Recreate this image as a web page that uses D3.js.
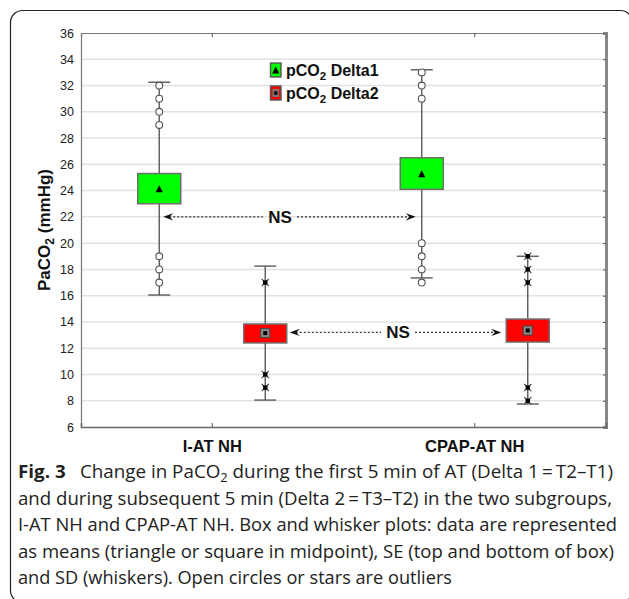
<!DOCTYPE html>
<html>
<head>
<meta charset="utf-8">
<script src="https://cdn.jsdelivr.net/npm/d3@7"></script>
<style>
  html, body { margin: 0; padding: 0; background: #fff; }
  svg { display: block; }
</style>
</head>
<body>
<svg id="chart" width="629" height="599"></svg>
<script>
// ---------------- data ----------------
const categories = ["I-AT NH", "CPAP-AT NH"];
const seriesNames = ["Delta1", "Delta2"];
const yTickValues = [6, 8, 10, 12, 14, 16, 18, 20, 22, 24, 26, 28, 30, 32, 34, 36];

// pCO2 Delta1 (green) — mean, SE box, SD whiskers, outliers
const delta1Mean   = [24.1, 25.25];
const delta1SeLow  = [23.0, 24.1];
const delta1SeHigh = [25.3, 26.5];
const delta1SdLow  = [16.05, 17.35];
const delta1SdHigh = [32.25, 33.2];
const delta1Outliers = [[32, 31, 30, 29, 19, 18, 17], [33, 32, 31, 20, 19, 18, 17]];

// pCO2 Delta2 (red)
const delta2Mean   = [13.15, 13.35];
const delta2SeLow  = [12.4, 12.47];
const delta2SeHigh = [13.84, 14.22];
const delta2SdLow  = [8.05, 7.75];
const delta2SdHigh = [18.25, 19.0];
const delta2Outliers = [[17, 10, 9], [19, 18, 17, 9, 8]];

const legendLabels = ["Delta1", "Delta2"];
const nsLevels = [22, 13.2];

const captionLines = [
  null,
  "and during subsequent 5 min (Delta 2\u2009=\u2009T3\u2013T2) in the two subgroups,",
  "I-AT NH and CPAP-AT NH. Box and whisker plots: data are represented",
  "as means (triangle or square in midpoint), SE (top and bottom of box)",
  "and SD (whiskers). Open circles or stars are outliers"
];

// ---------------- layout ----------------
const svg = d3.select("#chart");
const plot = { left: 81, right: 606, top: 33, bottom: 427 };

const x0 = d3.scaleBand().domain(categories).range([plot.left, plot.right]).padding(0);
const x1 = d3.scalePoint().domain(seriesNames)
  .range([x0.bandwidth() / 2 - 53, x0.bandwidth() / 2 + 53]);
const y = d3.scaleLinear().domain([6, 36]).range([plot.bottom, plot.top]);
const xc = (cat, s) => x0(cat) + x1(s);

// outer frame
svg.append("rect")
  .attr("x", 10.5).attr("y", 10.5).attr("width", 622).attr("height", 592)
  .attr("rx", 12).attr("fill", "none").attr("stroke", "#222").attr("stroke-width", 1.2);

// gridlines
svg.append("g").selectAll("line")
  .data(yTickValues.filter(v => v > 6 && v < 36))
  .join("line")
  .attr("x1", plot.left).attr("x2", plot.right)
  .attr("y1", d => y(d)).attr("y2", d => y(d))
  .attr("stroke", "#e2e2e2").attr("stroke-width", 1.5);

// axes
const yAxis = d3.axisLeft(y).tickValues(yTickValues).tickSize(0).tickPadding(7);
const gy = svg.append("g").attr("transform", `translate(${plot.left},0)`).call(yAxis);
gy.select(".domain").attr("stroke", "#777").attr("stroke-width", 1.2);
gy.selectAll("text").attr("font-family", "Liberation Sans, Arial, sans-serif")
  .attr("font-size", 12.5).attr("fill", "#222");

const yAxisR = d3.axisLeft(y).tickValues(yTickValues).tickSize(3).tickFormat("");
const gyr = svg.append("g").attr("transform", `translate(${plot.right},0)`).call(yAxisR);
gyr.select(".domain").attr("stroke", "#888").attr("stroke-width", 3);
gyr.selectAll(".tick line").attr("stroke", "#555");

const xAxis = d3.axisBottom(x0).tickSize(-4).tickPadding(13);
const gx = svg.append("g").attr("transform", `translate(0,${plot.bottom})`).call(xAxis);
gx.select(".domain").attr("stroke", "#666").attr("stroke-width", 1.6);
gx.selectAll(".tick line").attr("stroke", "#555");
gx.selectAll("text").attr("font-family", "Liberation Sans, Arial, sans-serif")
  .attr("font-size", 16.5).attr("font-weight", "bold").attr("fill", "#111");

const xAxisT = d3.axisTop(x0).tickSize(-4).tickFormat("");
const gxt = svg.append("g").attr("transform", `translate(0,${plot.top})`).call(xAxisT);
gxt.select(".domain").attr("stroke", "#777").attr("stroke-width", 1.2);
gxt.selectAll(".tick line").attr("stroke", "#555");

// y title
const yt = svg.append("text")
  .attr("transform", `translate(50,${(plot.top + plot.bottom) / 2}) rotate(-90)`)
  .attr("text-anchor", "middle")
  .attr("font-family", "Liberation Sans, Arial, sans-serif")
  .attr("font-size", 17).attr("font-weight", "bold").attr("fill", "#111");
yt.append("tspan").text("PaCO");
yt.append("tspan").attr("font-size", 12).attr("dy", 4).text("2");
yt.append("tspan").attr("dy", -4).text(" (mmHg)");

// ---------------- boxes ----------------
const boxW = 43, capW = 22;
const groups = [
  { s: "Delta1", fill: "#00ff00", mean: delta1Mean, seLo: delta1SeLow, seHi: delta1SeHigh,
    sdLo: delta1SdLow, sdHi: delta1SdHigh, out: delta1Outliers, marker: "tri", outMarker: "circle" },
  { s: "Delta2", fill: "#ff0000", mean: delta2Mean, seLo: delta2SeLow, seHi: delta2SeHigh,
    sdLo: delta2SdLow, sdHi: delta2SdHigh, out: delta2Outliers, marker: "sq", outMarker: "star" }
];

function drawStar(g, cx, cy) {
  const r = 3.6;
  g.append("path")
    .attr("d", `M${cx - r},${cy - r}L${cx + r},${cy + r}M${cx - r},${cy + r}L${cx + r},${cy - r}`)
    .attr("stroke", "#444").attr("stroke-width", 1.1).attr("fill", "none");
  g.append("rect").attr("x", cx - 2.2).attr("y", cy - 2.2).attr("width", 4.4).attr("height", 4.4)
    .attr("fill", "#000");
}
function drawSqMarker(g, cx, cy) {
  g.append("rect").attr("x", cx - 4.5).attr("y", cy - 4.5).attr("width", 9).attr("height", 9)
    .attr("fill", "#8a8a8a").attr("stroke", "#444").attr("stroke-width", 1);
  g.append("rect").attr("x", cx - 2).attr("y", cy - 2).attr("width", 4).attr("height", 4)
    .attr("fill", "#000");
}
function drawTri(g, cx, cy) {
  g.append("path").attr("d", `M${cx},${cy - 4}L${cx + 3.6},${cy + 3}L${cx - 3.6},${cy + 3}Z`)
    .attr("fill", "#000");
}

const gb = svg.append("g");
groups.forEach(G => {
  categories.forEach((cat, i) => {
    const cx = xc(cat, G.s);
    const g = gb.append("g");
    g.append("line").attr("x1", cx).attr("x2", cx)
      .attr("y1", y(G.sdLo[i])).attr("y2", y(G.sdHi[i]))
      .attr("stroke", "#5a5a5a").attr("stroke-width", 1.4);
    [G.sdLo[i], G.sdHi[i]].forEach(v => {
      g.append("line").attr("x1", cx - capW / 2).attr("x2", cx + capW / 2)
        .attr("y1", y(v)).attr("y2", y(v))
        .attr("stroke", "#5a5a5a").attr("stroke-width", 1.4);
    });
    g.append("rect").attr("x", cx - boxW / 2).attr("width", boxW)
      .attr("y", y(G.seHi[i])).attr("height", y(G.seLo[i]) - y(G.seHi[i]))
      .attr("fill", G.fill).attr("stroke", "#6e6e6e").attr("stroke-width", 1.5);
    if (G.marker === "tri") drawTri(g, cx, y(G.mean[i]));
    else drawSqMarker(g, cx, y(G.mean[i]));
    G.out[i].forEach(v => {
      if (G.outMarker === "circle") {
        g.append("circle").attr("cx", cx).attr("cy", y(v)).attr("r", 3.4)
          .attr("fill", "#fff").attr("stroke", "#555").attr("stroke-width", 1.1);
      } else drawStar(g, cx, y(v));
    });
  });
});

// ---------------- NS annotations ----------------
function arrowHead(g, tipX, yy, dir) {
  const L = 10, W = 3.6, n = 3.5;
  g.append("path")
    .attr("d", `M${tipX},${yy}L${tipX - dir * L},${yy - W}L${tipX - dir * (L - n)},${yy}L${tipX - dir * L},${yy + W}Z`)
    .attr("fill", "#111");
}
function nsArrow(yv, xa, xb, tx) {
  const g = svg.append("g");
  const yy = y(yv);
  const gap = 17;
  g.append("line").attr("x1", xa + 6).attr("x2", tx - gap).attr("y1", yy).attr("y2", yy)
    .attr("stroke", "#333").attr("stroke-width", 1.3).attr("stroke-dasharray", "2,2");
  g.append("line").attr("x1", tx + gap).attr("x2", xb - 6).attr("y1", yy).attr("y2", yy)
    .attr("stroke", "#333").attr("stroke-width", 1.3).attr("stroke-dasharray", "2,2");
  arrowHead(g, xa, yy, -1);
  arrowHead(g, xb, yy, 1);
  g.append("text").attr("x", tx).attr("y", yy + 6).attr("text-anchor", "middle")
    .attr("font-family", "Liberation Sans, Arial, sans-serif")
    .attr("font-size", 17).attr("font-weight", "bold").attr("fill", "#111").text("NS");
}
{
  const a = xc(categories[0], "Delta1") + 4;
  const b = xc(categories[1], "Delta1") - 6;
  nsArrow(nsLevels[0], a, b, 280);
  const c = xc(categories[0], "Delta2") + boxW / 2 + 3;
  const d = xc(categories[1], "Delta2") - boxW / 2 - 5;
  nsArrow(nsLevels[1], c, d, 398);
}

// ---------------- legend ----------------
const lg = svg.append("g").attr("transform", "translate(270,0)");
const legendY = [70, 93];
legendLabels.forEach((lab, i) => {
  const yy = legendY[i];
  const fill = i === 0 ? "#00ff00" : "#ff0000";
  lg.append("rect").attr("x", 0.5).attr("y", yy - 7).attr("width", 10.5).attr("height", 14)
    .attr("fill", fill).attr("stroke", "#555").attr("stroke-width", 1.4);
  if (i === 0) drawTri(lg, 5.75, yy + 0.5);
  else {
    lg.append("rect").attr("x", 2.5).attr("y", yy - 4).attr("width", 6.5).attr("height", 8)
      .attr("fill", "#777");
    lg.append("rect").attr("x", 4.2).attr("y", yy - 1.7).attr("width", 3.2).attr("height", 3.4)
      .attr("fill", "#000");
  }
  const t = lg.append("text").attr("x", 16).attr("y", yy + 6)
    .attr("font-family", "Liberation Sans, Arial, sans-serif")
    .attr("font-size", 16).attr("font-weight", "bold").attr("fill", "#111");
  t.append("tspan").text("pCO");
  t.append("tspan").attr("font-size", 11.5).attr("dy", 4).text("2");
  t.append("tspan").attr("dy", -4).text(" " + lab);
});

// ---------------- caption ----------------
const capFont = "Open Sans, Noto Sans, sans-serif";
const capX = 18, capBase = [478, 504.5, 531, 557.5, 584];
const capLen = [595, 594, 599, 596, 434];
const c0 = svg.append("text").attr("x", capX).attr("y", capBase[0])
  .attr("font-family", capFont).attr("font-size", 17.5).attr("fill", "#222")
  .attr("textLength", capLen[0]).attr("lengthAdjust", "spacingAndGlyphs");
c0.append("tspan").attr("font-weight", "bold").text("Fig. 3");
c0.append("tspan").text("\u2002 Change in PaCO");
c0.append("tspan").attr("font-size", 12).attr("dy", 4).text("2");
c0.append("tspan").attr("dy", -4).text(" during the first 5 min of AT (Delta 1\u2009=\u2009T2\u2013T1)");
captionLines.forEach((ln, i) => {
  if (!ln) return;
  svg.append("text").attr("x", capX).attr("y", capBase[i])
    .attr("font-family", capFont).attr("font-size", 17.5).attr("fill", "#222")
    .attr("textLength", capLen[i]).attr("lengthAdjust", "spacingAndGlyphs")
    .text(ln);
});
</script>
</body>
</html>
